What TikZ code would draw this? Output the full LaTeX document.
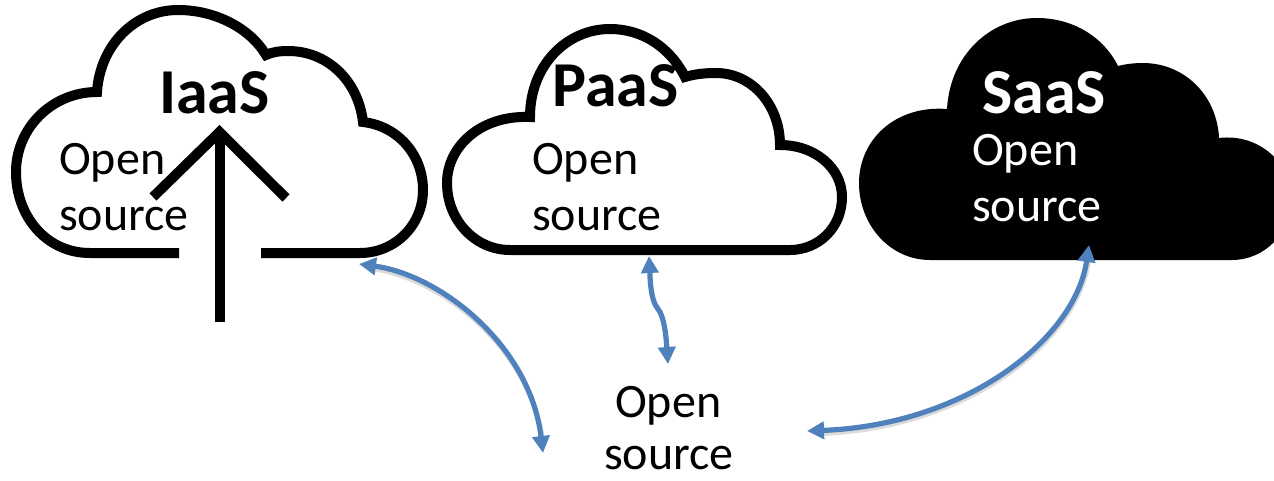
\documentclass[tikz,border=0pt]{standalone}
\usepackage{fontspec}
\setmainfont{Carlito}
\usetikzlibrary{arrows.meta}
\definecolor{linkblue}{HTML}{4F81BD}
\tikzset{
  cloudline/.style={draw=black,line width=10pt,miter limit=10,line join=miter,fill=none},
  bodytext/.style={anchor=base west,inner sep=0pt,font=\fontsize{48}{57}\selectfont},
  titletext/.style={anchor=base west,inner sep=0pt,font=\fontsize{64}{70}\selectfont\bfseries},
  linkarrow/.style={draw=linkblue,line width=5.2pt,{Triangle[length=17pt,width=17pt]}-{Triangle[length=17pt,width=17pt]}},
  linkshadow/.style={draw=black!14,line width=5pt,shorten <=12pt,shorten >=12pt,transform canvas={shift={(1.5pt,-3pt)}}}
}
\begin{document}
\begin{tikzpicture}[x=1pt,y=-1pt]
\useasboundingbox (0,0) rectangle (1274,480);
\clip (0,0) rectangle (1274,480);
\fill[white] (0,0) rectangle (1274,480);

% IaaS cloud
\draw[cloudline] (179,253) -- (90,253) .. controls (46,253) and (16,216) .. (16,172)
  .. controls (16,128) and (52,92) .. (97,92)
  .. controls (100,45) and (135,10) .. (178,10)
  .. controls (215,10) and (250,28) .. (266,55)
  .. controls (272,52) and (280,51) .. (288,51)
  .. controls (327,51) and (358,80) .. (363,122)
  .. controls (398,126) and (423,155) .. (423,190)
  .. controls (423,225) and (395,253) .. (360,253) -- (261,253);
\draw[cloudline] (219.5,322) -- (219.5,134);
\draw[cloudline] (153,197) -- (219.5,132) -- (286,198);

% PaaS cloud
\draw[cloudline] (510,250) .. controls (475,250) and (447,220) .. (447,183)
  .. controls (447,147) and (480,115) .. (530,117)
  .. controls (530,65) and (567,29) .. (610,29)
  .. controls (642,29) and (670,47) .. (685,77)
  .. controls (695,74) and (705,73) .. (716,73)
  .. controls (752,73) and (780,105) .. (780,145)
  .. controls (815,145) and (842,168) .. (842,197)
  .. controls (842,228) and (818,250) .. (790,250) -- cycle;

% SaaS cloud
\fill[black] (930,260) .. controls (890,260) and (859,225) .. (859,183)
  .. controls (859,140) and (895,105) .. (947,109)
  .. controls (950,55) and (990,18) .. (1037,18)
  .. controls (1072,18) and (1103,36) .. (1118,66)
  .. controls (1126,64) and (1134,63) .. (1143,63)
  .. controls (1184,63) and (1217,95) .. (1219,138)
  .. controls (1260,133) and (1292,165) .. (1292,198)
  .. controls (1292,232) and (1265,260) .. (1232,260) -- cycle;

% Labels
\node[titletext] (iaas) at (159,113) {IaaS};
\node[bodytext] (open1) at (59,174) {Open};
\node[bodytext] (src1) at (59,230) {source};
\node[titletext] (paas) at (552,106) {PaaS};
\node[bodytext] (open2) at (532,174) {Open};
\node[bodytext] (src2) at (532,230) {source};
\node[titletext,text=white] (saas) at (982,113) {SaaS};
\node[bodytext,text=white] (open3) at (972,165) {Open};
\node[bodytext,text=white] (src3) at (972,221) {source};
\node[bodytext] (open4) at (615,417) {Open};
\node[bodytext] (src4) at (604,469) {source};

% Connector ends
\coordinate (a1) at (359,264);
\coordinate (a2) at (543,453);
\coordinate (b1) at (649,256);
\coordinate (b2) at (668,364);
\coordinate (c1) at (1089,245);
\coordinate (c2) at (807,431);

% Faint shadows
\draw[linkshadow] (a1) .. controls (440,275) and (530,345) .. (a2);
\draw[linkshadow] (c1) .. controls (1075,340) and (965,425) .. (c2);

% Connectors
\draw[linkarrow] (a1) .. controls (440,275) and (530,345) .. (a2);
\draw[linkarrow] (b1) .. controls (650,275) and (650,300) .. (658,309)
  .. controls (664,316) and (666,335) .. (b2);
\draw[linkarrow] (c1) .. controls (1075,340) and (965,425) .. (c2);
\end{tikzpicture}
\end{document}
